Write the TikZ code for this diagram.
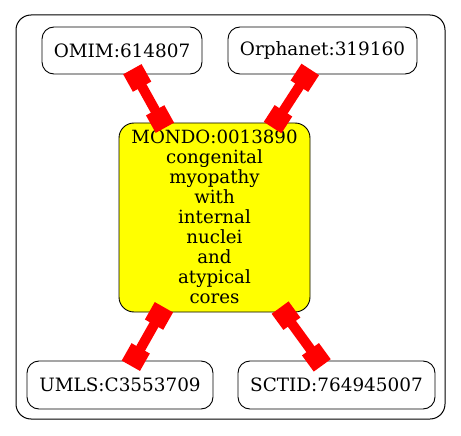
\documentclass[tikz,border=0pt]{standalone}
\usepackage{fontspec}
\setmainfont{DejaVu Serif}
\usetikzlibrary{arrows.meta}
\definecolor{gvyellow}{RGB}{255,255,0}
\definecolor{gvred}{RGB}{255,0,0}
\begin{document}
\begin{tikzpicture}[x=1pt,y=-1pt,
  idbox/.style={draw=black, line width=0.9pt, rounded corners=12pt, inner sep=0pt,
    font=\fontsize{18.4}{20}\selectfont},
  mondobox/.style={draw=black, line width=0.9pt, rounded corners=15pt, fill=gvyellow, inner sep=0pt},
  rel/.style={draw=gvred, line width=10pt,
    {Square[length=20pt,width=21pt]}-{Square[length=20pt,width=21pt]},
    shorten <=-6pt, shorten >=-6pt}]
  \useasboundingbox (0,0) rectangle (461,436);
  \node[draw=black, line width=1pt, rounded corners=15pt, minimum width=429pt, minimum height=404pt, inner sep=0pt] (cluster) at (230.5,217) {};
  \node[idbox, minimum width=160pt, minimum height=47pt] (omim) at (122,50.5) {OMIM:614807};
  \node[idbox, minimum width=189pt, minimum height=47pt] (orpha) at (322.5,50.5) {Orphanet:319160};
  \node[mondobox, minimum width=191pt, minimum height=189pt] (mondo) at (214.5,217.5) {};
  \node[idbox, minimum width=186pt, minimum height=48pt] (umls) at (120,385) {UMLS:C3553709};
  \node[idbox, minimum width=197pt, minimum height=48pt] (sctid) at (336.5,385) {SCTID:764945007};
  \node[anchor=north, inner sep=0pt, align=center, font=\fontsize{18.2}{20}\selectfont] (mondotxt) at (214.5,129.8)
    {MONDO:0013890\\congenital\\myopathy\\with\\internal\\nuclei\\and\\atypical\\cores};
  \draw[rel] (omim) -- (mondo);
  \draw[rel] (orpha) -- (mondo);
  \draw[rel] (mondo) -- (umls);
  \draw[rel] (mondo) -- (sctid);
\end{tikzpicture}
\end{document}
